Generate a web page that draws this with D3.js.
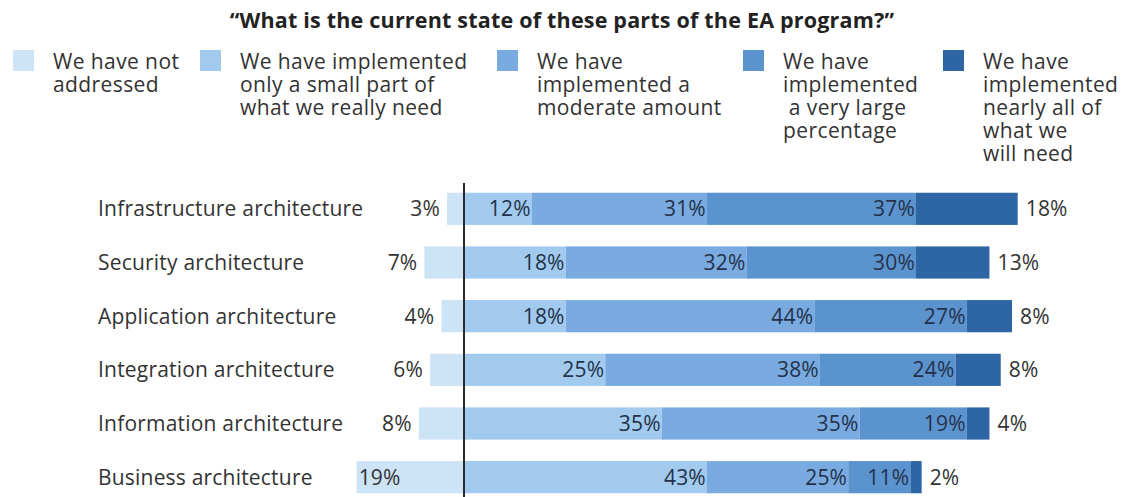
<!DOCTYPE html>
<html>
<head>
<meta charset="utf-8">
<script src="https://cdn.jsdelivr.net/npm/d3@7"></script>
<style>
  body { margin: 0; background: #fff; }
  text { font-family: "Open Sans", Lato, sans-serif; }
</style>
</head>
<body>
<div id="chart"></div>
<script>
// data
const categories = [
    "Infrastructure architecture",
    "Security architecture",
    "Application architecture",
    "Integration architecture",
    "Information architecture",
    "Business architecture"
];
const notAddressed   = [3, 7, 4, 6, 8, 19];
const smallPart      = [12, 18, 18, 25, 35, 43];
const moderate       = [31, 32, 44, 38, 35, 25];
const veryLarge      = [37, 30, 27, 24, 19, 11];
const nearlyAll      = [18, 13, 8, 8, 4, 2];

const legendLabels = [
    ["We have not", "addressed"],
    ["We have implemented", "only a small part of", "what we really need"],
    ["We have", "implemented a", "moderate amount"],
    ["We have", "implemented", " a very large", "percentage"],
    ["We have", "implemented", "nearly all of", "what we", "will need"]
];
const colors = ["#cde3f6", "#a2caee", "#79abe0", "#5b93cf", "#2e66a5"];
const title = "\u201cWhat is the current state of these parts of the EA program?\u201d";

const width = 1124, height = 497;

const svg = d3.select("#chart").append("svg")
    .attr("width", width)
    .attr("height", height);

// title
svg.append("text")
    .attr("x", 562)
    .attr("y", 28)
    .attr("text-anchor", "middle")
    .attr("font-size", 21.5)
    .attr("font-weight", "bold")
    .attr("letter-spacing", 0.2)
    .attr("fill", "#222")
    .text(title);

// legend
const legendX = [13, 200, 497, 743, 943];
const legend = svg.append("g").attr("class", "legend");
legendLabels.forEach((lines, i) => {
    let g = legend.append("g").attr("transform", `translate(${legendX[i]},50)`);
    g.append("rect")
        .attr("width", 21)
        .attr("height", 21)
        .attr("fill", colors[i]);
    g.append("text")
        .attr("x", 40)
        .attr("y", 19)
        .attr("font-size", 21)
        .attr("letter-spacing", 0.4)
        .attr("fill", "#333")
        .selectAll("tspan")
        .data(lines)
        .enter()
        .append("tspan")
        .attr("x", 40)
        .attr("dy", (d, j) => j === 0 ? 0 : 23)
        .attr("xml:space", "preserve")
        .text(d => d);
});

// scales
const x = d3.scaleLinear().domain([0, 100]).range([464, 464 + 565]);
const y = d3.scaleBand()
    .domain(categories)
    .range([182, 504])
    .paddingInner(0.4)
    .paddingOuter(0.2);

// stacked rows: first series goes left of the axis
const rows = categories.map((c, i) => {
    const vals = [smallPart[i], moderate[i], veryLarge[i], nearlyAll[i]];
    let segs = [{ k: 0, x0: -notAddressed[i], x1: 0, v: notAddressed[i] }];
    let acc = 0;
    vals.forEach((v, j) => {
        segs.push({ k: j + 1, x0: acc, x1: acc + v, v: v });
        acc += v;
    });
    return { cat: c, segs: segs };
});

const rowG = svg.append("g").selectAll("g.row")
    .data(rows)
    .enter()
    .append("g")
    .attr("class", "row")
    .attr("transform", d => `translate(0,${y(d.cat)})`);

rowG.selectAll("rect")
    .data(d => d.segs)
    .enter()
    .append("rect")
    .attr("x", d => x(d.x0))
    .attr("width", d => x(d.x1) - x(d.x0))
    .attr("height", y.bandwidth())
    .attr("fill", d => colors[d.k]);

// category labels
rowG.append("text")
    .attr("x", 98)
    .attr("y", y.bandwidth() / 2)
    .attr("dy", "0.35em")
    .attr("font-size", 21)
    .attr("letter-spacing", 0.2)
    .attr("fill", "#333")
    .text(d => d.cat);

// value labels
rowG.selectAll("text.val")
    .data(d => d.segs)
    .enter()
    .append("text")
    .attr("class", "val")
    .attr("y", y.bandwidth() / 2)
    .attr("dy", "0.35em")
    .attr("font-size", 21)
    .attr("letter-spacing", 0.2)
    .attr("fill", d => (d.k === 0 || d.k === 4) ? "#333" : "#23324a")
    .attr("text-anchor", d => {
        if (d.k === 0) return d.v >= 15 ? "start" : "end";
        if (d.k === 4) return "start";
        return "end";
    })
    .attr("x", d => {
        if (d.k === 0) return d.v >= 15 ? x(d.x0) + 2 : x(d.x0) - 7;
        if (d.k === 4) return x(d.x1) + 8;
        return x(d.x1) - 1;
    })
    .text(d => d.v + "%");

// axis line
svg.append("line")
    .attr("x1", x(0))
    .attr("x2", x(0))
    .attr("y1", 183)
    .attr("y2", height)
    .attr("stroke", "#2a2a2a")
    .attr("stroke-width", 2);
</script>
</body>
</html>
